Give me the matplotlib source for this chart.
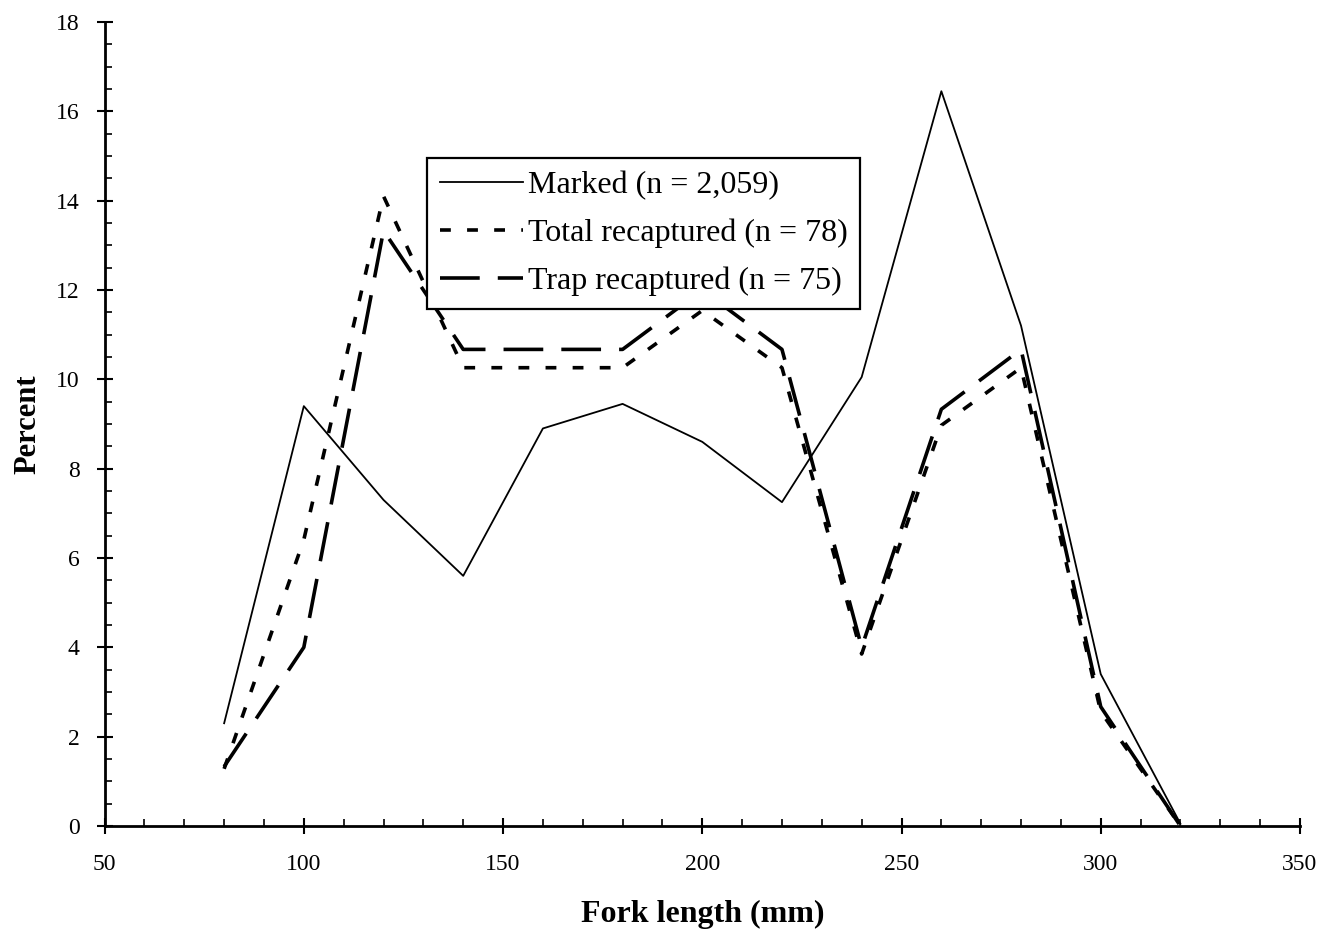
import numpy as np
import matplotlib.pyplot as plt
from matplotlib.ticker import MultipleLocator

# fork length classes (mm)
length = [80, 100, 120, 140, 160, 180, 200, 220, 240, 260, 280, 300, 320]
# percent of fish in each class
marked = [2.3, 9.4, 7.3, 5.6, 8.9, 9.45, 8.6, 7.25, 10.05, 16.45, 11.2, 3.4, 0.05]
total_recap = [1.28, 6.41, 14.10, 10.26, 10.26, 10.26, 11.54, 10.26, 3.85, 8.97, 10.26, 2.56, 0.0]
trap_recap = [1.33, 4.00, 13.33, 10.67, 10.67, 10.67, 12.00, 10.67, 4.00, 9.33, 10.67, 2.67, 0.0]

plt.rcParams['font.family'] = ['Liberation Serif', 'DejaVu Serif']

fig = plt.figure(figsize=(13.41, 9.40), dpi=100)
ax = fig.add_axes([0.078, 0.1213, 0.8914, 0.8553])

ax.plot(length, marked, color='black', lw=1.3, label='Marked (n = 2,059)')
ax.plot(length, total_recap, color='black', lw=2.6, dashes=(3, 4.5),
        label='Total recaptured (n = 78)')
ax.plot(length, trap_recap, color='black', lw=2.6, dashes=(11, 5),
        label='Trap recaptured (n = 75)')

ax.set_xlim(50, 350)
ax.set_ylim(0, 18)
ax.xaxis.set_major_locator(MultipleLocator(50))
ax.xaxis.set_minor_locator(MultipleLocator(10))
ax.yaxis.set_major_locator(MultipleLocator(2))
ax.yaxis.set_minor_locator(MultipleLocator(0.5))
ax.tick_params(which='major', direction='inout', length=12, width=1.5,
               labelsize=17, pad=14)
ax.tick_params(axis='y', which='major', pad=12)
ax.tick_params(which='minor', direction='in', length=5, width=1.2)

for s in ['top', 'right']:
    ax.spines[s].set_visible(False)
for s in ['left', 'bottom']:
    ax.spines[s].set_linewidth(2)

ax.set_xlabel('Fork length (mm)', fontsize=23, fontweight='bold', labelpad=18)
ax.set_ylabel('Percent', fontsize=22, fontweight='bold', labelpad=10)

leg = ax.legend(loc='upper left', bbox_to_anchor=(0.270, 0.831), fontsize=23,
                handlelength=2.6, handletextpad=0.15, borderpad=0.4,
                labelspacing=0.58, fancybox=False, framealpha=1,
                edgecolor='black', borderaxespad=0)
leg.get_frame().set_linewidth(1.6)

fig.savefig('out.png', dpi=100, facecolor='white')
